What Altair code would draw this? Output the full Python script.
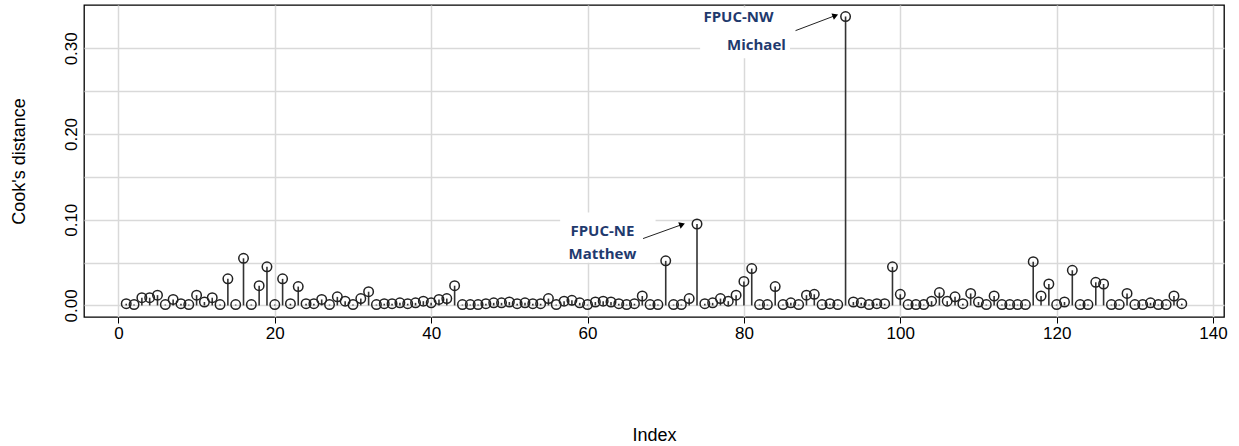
import altair as alt
import pandas as pd

cooks = [
    0.002, 0.001, 0.009, 0.009, 0.012, 0.001, 0.007, 0.002, 0.001, 0.012,
    0.004, 0.009, 0.001, 0.031, 0.001, 0.055, 0.001, 0.023, 0.045, 0.001,
    0.031, 0.002, 0.022, 0.002, 0.002, 0.007, 0.001, 0.010, 0.005, 0.001,
    0.008, 0.016, 0.001, 0.002, 0.002, 0.003, 0.002, 0.003, 0.005, 0.003,
    0.007, 0.008, 0.023, 0.001, 0.001, 0.001, 0.002, 0.003, 0.003, 0.004,
    0.002, 0.003, 0.002, 0.002, 0.008, 0.001, 0.005, 0.006, 0.003, 0.001,
    0.004, 0.005, 0.004, 0.002, 0.001, 0.002, 0.011, 0.001, 0.001, 0.052,
    0.001, 0.001, 0.008, 0.095, 0.002, 0.003, 0.008, 0.005, 0.012, 0.028,
    0.043, 0.001, 0.001, 0.022, 0.001, 0.003, 0.001, 0.012, 0.013, 0.001,
    0.002, 0.001, 0.337, 0.004, 0.003, 0.001, 0.002, 0.002, 0.045, 0.013,
    0.001, 0.001, 0.001, 0.005, 0.015, 0.005, 0.010, 0.002, 0.014, 0.004,
    0.001, 0.011, 0.001, 0.001, 0.001, 0.001, 0.051, 0.011, 0.025, 0.001,
    0.004, 0.041, 0.001, 0.001, 0.027, 0.025, 0.001, 0.001, 0.014, 0.001,
    0.001, 0.003, 0.001, 0.001, 0.011, 0.002,
]
index = list(range(1, len(cooks) + 1))

x_ticks = [0, 20, 40, 60, 80, 100, 120, 140]
y_grid = [0.0, 0.05, 0.10, 0.15, 0.20, 0.25, 0.30]

# annotations
label_text = ["FPUC-NW", "Michael", "FPUC-NE", "Matthew"]
label_x = [79.3, 81.6, 61.9, 61.9]
label_y = [0.337, 0.3042, 0.0873, 0.0604]

box_x1 = [74.4, 56.5]
box_x2 = [85.9, 68.7]
box_y1 = [0.2884, 0.0498]
box_y2 = [0.3476, 0.1084]

arrow_x1 = [86.6, 67.1]
arrow_y1 = [0.3206, 0.078]
arrow_x2 = [91.7, 72.1]
arrow_y2 = [0.3382, 0.0944]
arrow_angle = [69, 70]

df = pd.DataFrame({"Index": index, "cook": cooks, "zero": [0.0] * len(cooks)})
lab = pd.DataFrame({"t": label_text, "x": label_x, "y": label_y})
boxes = pd.DataFrame({"x1": box_x1, "x2": box_x2, "y1": box_y1, "y2": box_y2})
arr = pd.DataFrame({"x1": arrow_x1, "y1": arrow_y1, "x2": arrow_x2, "y2": arrow_y2, "a": arrow_angle})

xs = alt.Scale(domain=[-4.4, 141.4], nice=False, zero=False)
ys = alt.Scale(domain=[-0.0135, 0.3505], nice=False, zero=False)

x_axis = alt.Axis(
    values=x_ticks, title="Index", grid=True, gridColor="#d9d9d9", gridWidth=1.5,
    tickSize=6, tickColor="#000000", tickWidth=1, domain=False,
    labelFont="Liberation Sans", labelFontSize=17, labelColor="#000000", labelPadding=2,
    titleFont="Liberation Sans", titleFontSize=18, titleFontWeight="normal", titleColor="#000000",
    titlePadding=85,
)
y_axis = alt.Axis(
    values=y_grid, title="Cook's distance", grid=True, gridColor="#d9d9d9", gridWidth=1.5,
    ticks=False, domain=False,
    labelExpr="round(datum.value*20) % 2 == 0 ? format(datum.value, '.2f') : ''",
    labelAngle=270, labelAlign="center", labelBaseline="bottom",
    labelFont="Liberation Sans", labelFontSize=17, labelColor="#000000", labelPadding=4,
    titleFont="Liberation Sans", titleFontSize=18, titleFontWeight="normal", titleColor="#000000",
    titlePadding=34,
)

stems = alt.Chart(df).mark_rule(color="#333333", strokeWidth=1.6).encode(
    x=alt.X("Index:Q", scale=xs, axis=x_axis),
    y=alt.Y("zero:Q", scale=ys, axis=y_axis),
    y2="cook:Q",
)
pts = alt.Chart(df).mark_point(shape="circle", size=90, filled=False, color="#222222", strokeWidth=1.5, opacity=1).encode(
    x=alt.X("Index:Q", scale=xs),
    y=alt.Y("cook:Q", scale=ys),
)
rects = alt.Chart(boxes).mark_rect(color="white").encode(
    x=alt.X("x1:Q", scale=xs), x2="x2:Q",
    y=alt.Y("y1:Q", scale=ys), y2="y2:Q",
)
texts = alt.Chart(lab).mark_text(font="Open Sans", fontWeight="bold", fontSize=15, color="#1F3A6E").encode(
    x=alt.X("x:Q", scale=xs), y=alt.Y("y:Q", scale=ys), text="t:N",
)
arrow_lines = alt.Chart(arr).mark_rule(color="#222222", strokeWidth=1).encode(
    x=alt.X("x1:Q", scale=xs), y=alt.Y("y1:Q", scale=ys), x2="x2:Q", y2="y2:Q",
)
heads = alt.Chart(arr).mark_point(shape="triangle-up", size=45, filled=True, color="#000000", opacity=1).encode(
    x=alt.X("x2:Q", scale=xs), y=alt.Y("y2:Q", scale=ys), angle=alt.Angle("a:Q", scale=None),
)

chart = alt.layer(rects, stems, pts, texts, arrow_lines, heads).properties(
    width=1140, height=312,
    autosize=alt.AutoSizeParams(type="none"),
    padding={"left": 84, "top": 5, "right": 15, "bottom": 129},
    background="white",
).configure_view(stroke="#000000", strokeWidth=1.3)

chart.save("out.html", embed_options={"renderer": "svg", "actions": False})
